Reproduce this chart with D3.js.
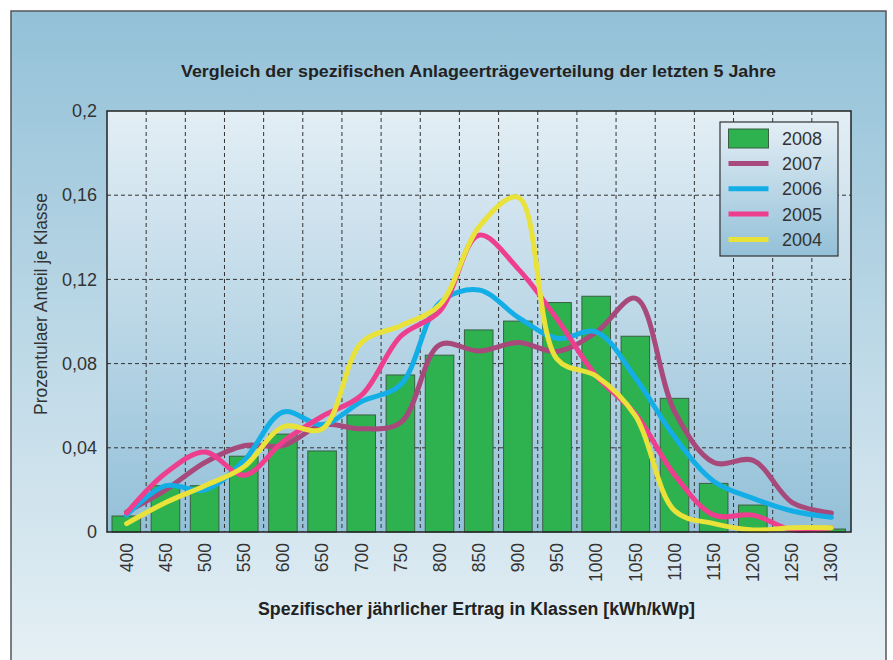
<!DOCTYPE html>
<html lang="de">
<head>
    <meta charset="UTF-8">
    <title>Vergleich der spezifischen Anlageerträgeverteilung</title>
    <script src="https://d3js.org/d3.v7.min.js"></script>
    <style>
        body { margin: 0; background: #fff; }
        svg { display: block; font-family: "Liberation Sans", Arial, sans-serif; }
    </style>
</head>
<body>
<div id="chart"></div>
<script>
    // categories (kWh/kWp classes)
    const classes = ["400","450","500","550","600","650","700","750","800","850","900","950","1000","1050","1100","1150","1200","1250","1300"];
    const yTicks = [0, 0.04, 0.08, 0.12, 0.16, 0.2];

    // 2008 as bars
    const bars2008 = [0.0076, 0.022, 0.022, 0.036, 0.0465, 0.0385, 0.0556, 0.0746, 0.084, 0.096, 0.1002, 0.109, 0.112, 0.093, 0.0635, 0.0231, 0.0128, 0, 0.0014];

    // other years as smoothed lines
    const line2007 = [0.0095, 0.02, 0.033, 0.041, 0.041, 0.051, 0.049, 0.052, 0.089, 0.086, 0.090, 0.0858, 0.095, 0.111, 0.057, 0.033, 0.034, 0.014, 0.009];
    const line2006 = [0.008, 0.022, 0.020, 0.034, 0.057, 0.051, 0.062, 0.070, 0.109, 0.115, 0.102, 0.092, 0.095, 0.073, 0.045, 0.024, 0.016, 0.010, 0.007];
    const line2005 = [0.009, 0.028, 0.038, 0.027, 0.043, 0.055, 0.065, 0.093, 0.105, 0.141, 0.125, 0.101, 0.074, 0.056, 0.027, 0.008, 0.008, 0.001, 0.002];
    const line2004 = [0.004, 0.014, 0.022, 0.031, 0.050, 0.049, 0.090, 0.098, 0.108, 0.145, 0.159, 0.082, 0.074, 0.055, 0.010, 0.004, 0.001, 0.002, 0.002];

    const seriesNames = ["2007", "2006", "2005", "2004"];
    const seriesColors = ["#a8497b", "#14aee6", "#ee3f8f", "#e8e23a"];
    const seriesData = [line2007, line2006, line2005, line2004];

    const width = 893, height = 660;
    const plot = { left: 107, right: 851, top: 111, bottom: 532 };

    const svg = d3.select("#chart").append("svg")
        .attr("width", width)
        .attr("height", height);

    const defs = svg.append("defs");
    const outerGrad = defs.append("linearGradient")
        .attr("id", "outerGrad").attr("x1", 0).attr("y1", 0).attr("x2", 0).attr("y2", 1);
    outerGrad.append("stop").attr("offset", "0%").attr("stop-color", "#93c1d8");
    outerGrad.append("stop").attr("offset", "100%").attr("stop-color", "#e6f0f5");

    const plotGrad = defs.append("linearGradient")
        .attr("id", "plotGrad").attr("x1", 0).attr("y1", 0).attr("x2", 0).attr("y2", 1);
    plotGrad.append("stop").attr("offset", "0%").attr("stop-color", "#e3eef5");
    plotGrad.append("stop").attr("offset", "100%").attr("stop-color", "#93c0d8");

    // outer frame
    svg.append("rect")
        .attr("x", 11).attr("y", 11)
        .attr("width", 875).attr("height", 660)
        .attr("fill", "url(#outerGrad)")
        .attr("stroke", "#555")
        .attr("stroke-width", 1.5);

    // scales
    const x = d3.scaleBand()
        .domain(classes)
        .range([plot.left, plot.right])
        .padding(0);

    const y = d3.scaleLinear()
        .domain([0, 0.2])
        .range([plot.bottom, plot.top]);

    const deFormat = d3.formatLocale({ decimal: ",", thousands: ".", grouping: [3], currency: ["", "€"] }).format(".2~f");

    // plot area background
    svg.append("rect")
        .attr("x", plot.left).attr("y", plot.top)
        .attr("width", plot.right - plot.left)
        .attr("height", plot.bottom - plot.top)
        .attr("fill", "url(#plotGrad)");

    // grid lines
    const grid = svg.append("g")
        .attr("stroke", "#333")
        .attr("stroke-width", 1)
        .attr("stroke-dasharray", "4,3");

    grid.selectAll("line.h")
        .data(yTicks.filter(d => d > 0 && d < 0.2))
        .join("line")
        .attr("class", "h")
        .attr("x1", plot.left).attr("x2", plot.right)
        .attr("y1", d => y(d)).attr("y2", d => y(d));

    grid.selectAll("line.v")
        .data(classes.slice(1))
        .join("line")
        .attr("class", "v")
        .attr("x1", d => x(d)).attr("x2", d => x(d))
        .attr("y1", plot.top).attr("y2", plot.bottom);

    // bars (2008)
    const barOffset = 5, barWidth = x.bandwidth() * 0.73;
    svg.append("g")
        .selectAll("rect")
        .data(bars2008)
        .join("rect")
        .attr("x", (d, i) => x(classes[i]) + barOffset)
        .attr("y", d => y(d))
        .attr("width", barWidth)
        .attr("height", d => y(0) - y(d))
        .attr("fill", "#2db24f")
        .attr("stroke", d => d > 0 ? "#3b5e45" : "none")
        .attr("stroke-width", 1);

    // smoothed lines
    const line = d3.line()
        .x((d, i) => x(classes[i]) + x.bandwidth() / 2)
        .y(d => y(d))
        .curve(d3.curveCatmullRom.alpha(0.5));

    svg.append("g")
        .attr("fill", "none")
        .attr("stroke-width", 5)
        .attr("stroke-linecap", "round")
        .attr("stroke-linejoin", "round")
        .selectAll("path")
        .data(seriesData)
        .join("path")
        .attr("stroke", (d, i) => seriesColors[i])
        .attr("d", line);

    // plot border
    svg.append("rect")
        .attr("x", plot.left).attr("y", plot.top)
        .attr("width", plot.right - plot.left)
        .attr("height", plot.bottom - plot.top)
        .attr("fill", "none")
        .attr("stroke", "#222")
        .attr("stroke-width", 1.5);

    // y axis labels
    svg.append("g")
        .attr("transform", `translate(${plot.left},0)`)
        .call(d3.axisLeft(y).tickValues(yTicks).tickFormat(deFormat).tickSize(0).tickPadding(10))
        .call(g => g.select(".domain").remove())
        .selectAll("text")
        .attr("font-size", 18)
        .attr("font-family", "\"Liberation Sans\", Arial, sans-serif")
        .attr("fill", "#333");

    // x axis labels, rotated
    svg.append("g")
        .selectAll("text")
        .data(classes)
        .join("text")
        .attr("transform", d => `translate(${x(d) + x.bandwidth() / 2 + 6},543) rotate(-90)`)
        .attr("text-anchor", "end")
        .attr("font-size", 17.5)
        .attr("fill", "#333")
        .text(d => d);

    // titles
    svg.append("text")
        .attr("x", 181).attr("y", 77)
        .attr("font-size", 17)
        .attr("font-weight", "bold")
        .attr("fill", "#222")
        .attr("textLength", 595)
        .attr("lengthAdjust", "spacingAndGlyphs")
        .text("Vergleich der spezifischen Anlageerträgeverteilung der letzten 5 Jahre");

    svg.append("text")
        .attr("x", 258).attr("y", 615)
        .attr("font-size", 18)
        .attr("font-weight", "bold")
        .attr("fill", "#222")
        .attr("textLength", 437)
        .attr("lengthAdjust", "spacingAndGlyphs")
        .text("Spezifischer jährlicher Ertrag in Klassen [kWh/kWp]");

    svg.append("text")
        .attr("transform", "translate(47,415) rotate(-90)")
        .attr("font-size", 18)
        .attr("fill", "#333")
        .attr("textLength", 222)
        .attr("lengthAdjust", "spacingAndGlyphs")
        .text("Prozentulaer Anteil je Klasse");

    // legend
    const legend = svg.append("g").attr("transform", "translate(720,122)");
    legend.append("rect")
        .attr("width", 118).attr("height", 134)
        .attr("fill", "url(#plotGrad)")
        .attr("stroke", "#333")
        .attr("stroke-width", 1.2);

    legend.append("rect")
        .attr("x", 8.5).attr("y", 7)
        .attr("width", 40).attr("height", 19)
        .attr("fill", "#2db24f")
        .attr("stroke", "#3b5e45");
    legend.append("text")
        .attr("x", 62).attr("y", 23)
        .attr("font-size", 18)
        .attr("fill", "#333")
        .text("2008");

    const legendRows = legend.selectAll("g.row")
        .data(seriesNames)
        .join("g")
        .attr("class", "row")
        .attr("transform", (d, i) => `translate(0,${41.5 + i * 25.3})`);
    legendRows.append("line")
        .attr("x1", 8.5).attr("x2", 48.5)
        .attr("stroke", (d, i) => seriesColors[i])
        .attr("stroke-width", 5);
    legendRows.append("text")
        .attr("x", 62).attr("y", 6.5)
        .attr("font-size", 18)
        .attr("fill", "#333")
        .text(d => d);
</script>
</body>
</html>
